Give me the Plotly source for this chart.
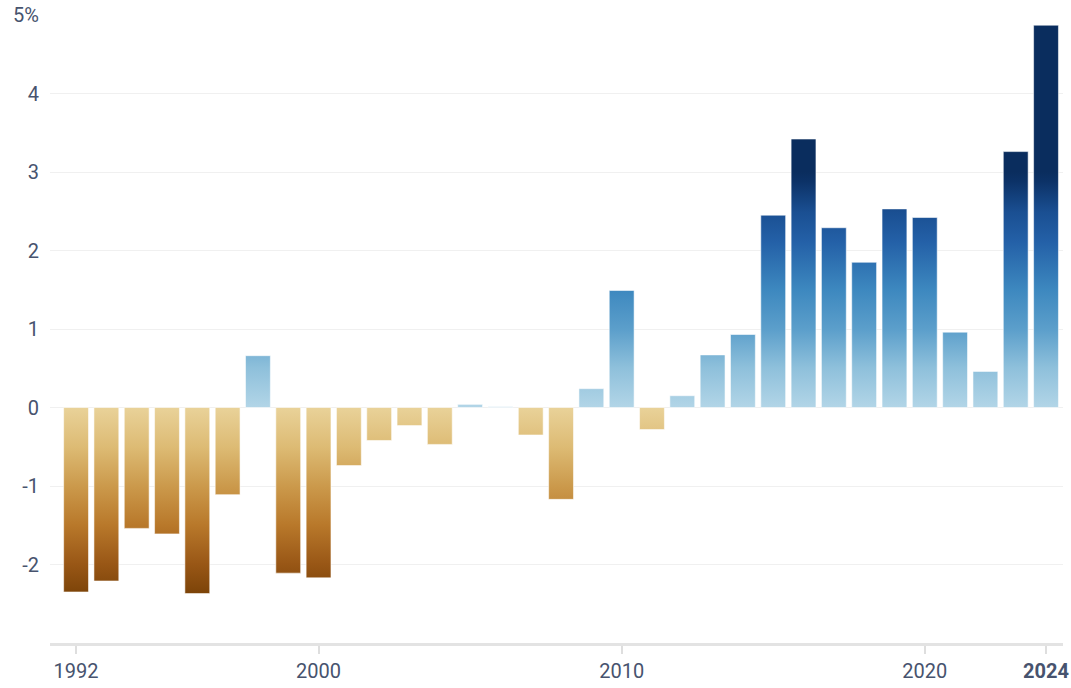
import plotly.graph_objects as go

years = list(range(1992, 2025))
values = [-2.35, -2.21, -1.54, -1.61, -2.37, -1.11, 0.66, -2.11, -2.17, -0.74,
          -0.42, -0.23, -0.47, 0.04, 0.01, -0.35, -1.17, 0.24, 1.49, -0.28,
          0.15, 0.67, 0.93, 2.45, 3.42, 2.29, 1.85, 2.53, 2.42, 0.96,
          0.46, 3.26, 4.87]

x_tickvals = [1992, 2000, 2010, 2020, 2024]
x_ticktext = ["1992", "2000", "2010", "2020", "<b>2024</b>"]
y_tickvals = [-2, -1, 0, 1, 2, 3, 4, 5]
y_ticktext = ["-2", "-1", "0", "1", "2", "3", "4", "5%"]

pos_scale = [[0.0, "#b2d5e7"], [0.17, "#8ec0db"], [0.33, "#5c9fcb"],
             [0.5, "#3d88bf"], [0.7, "#2461a8"], [0.83, "#1a4f92"],
             [0.96, "#0c3267"], [1.0, "#0a2d5e"]]
neg_scale = [[0.0, "#e9d299"], [0.21, "#ddbb74"], [0.42, "#cb994b"],
             [0.62, "#b9792b"], [0.83, "#995716"], [1.0, "#7a4207"]]

half = 0.41
text_color = "#47536e"
font_family = "Roboto, sans-serif"

fig = go.Figure()
for yr, v in zip(years, values):
    xs = [yr - half, yr + half, yr + half, yr - half, yr - half]
    ys = [0, 0, v, v, 0]
    if v >= 0:
        grad = dict(type="vertical", colorscale=pos_scale, start=0, stop=3.0)
    else:
        grad = dict(type="vertical", colorscale=neg_scale, start=0, stop=-2.4)
    fig.add_trace(go.Scatter(
        x=xs, y=ys, mode="lines", fill="toself",
        fillgradient=grad,
        line=dict(width=1, color="rgba(255,255,255,0.55)"),
        hoverinfo="text", text=f"{yr}: {v:+.2f}%",
        showlegend=False,
    ))

fig.update_layout(
    width=1071, height=688,
    margin=dict(l=50, r=8, t=15, b=45, autoexpand=False),
    paper_bgcolor="white", plot_bgcolor="white",
    font=dict(family=font_family, size=20, color=text_color),
    showlegend=False,
)
fig.update_xaxes(
    range=[1991.14, 2024.56],
    tickvals=x_tickvals, ticktext=x_ticktext,
    showgrid=False, zeroline=False, automargin=False,
    showline=True, linecolor="#e3e3e3", linewidth=3,
    ticks="outside", ticklen=8, tickwidth=2, tickcolor="#dedede",
    ticklabeloverflow="allow",
    tickfont=dict(size=20, color=text_color),
)
fig.update_yaxes(
    range=[-3, 5],
    tickvals=y_tickvals, ticktext=y_ticktext,
    showgrid=True, gridcolor="#f0f0f0", gridwidth=1,
    zeroline=False, showline=False, ticks="", automargin=False,
    ticklabelstandoff=10, ticklabeloverflow="allow",
    tickfont=dict(size=20, color=text_color),
)

fig.write_html(
    "out.html",
    config={"displayModeBar": False},
    post_script="document.body.style.margin='0';",
)
